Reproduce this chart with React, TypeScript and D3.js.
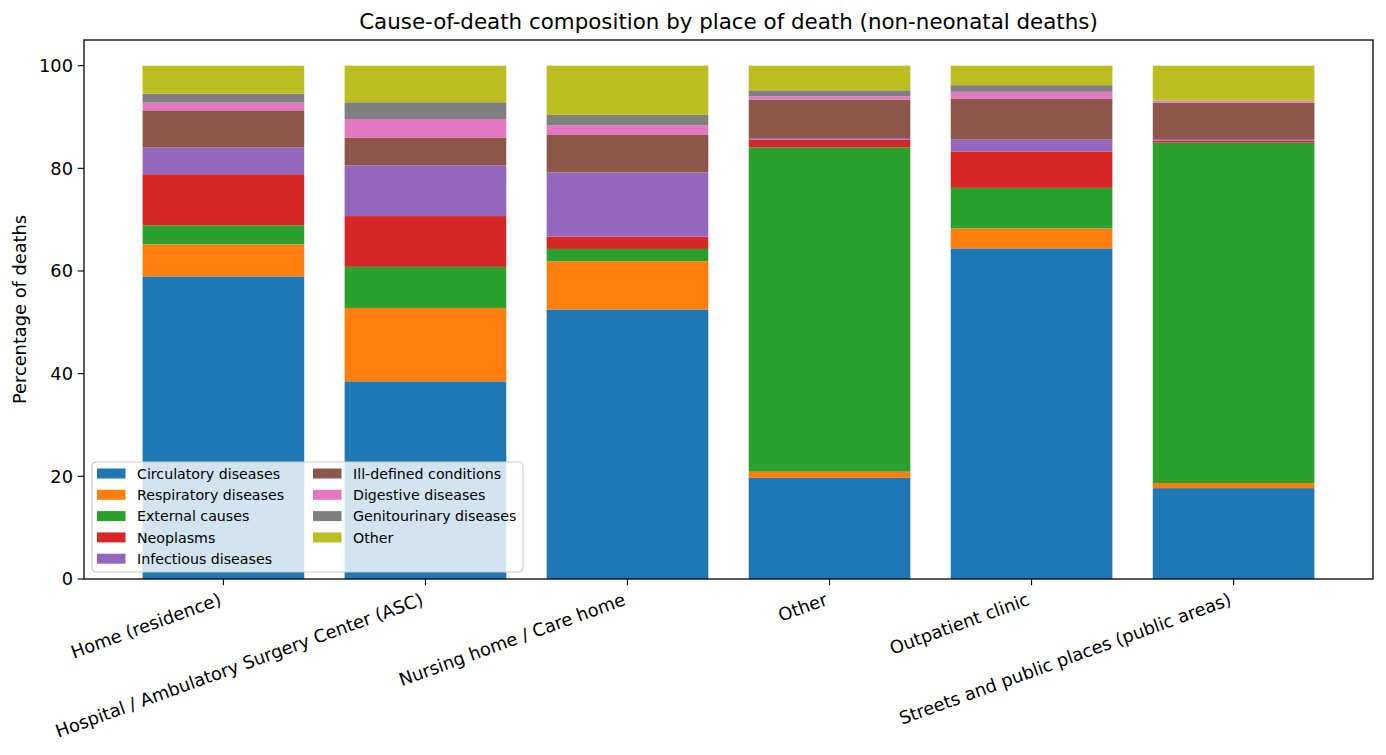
import { useEffect, useRef } from "react";
import * as d3 from "d3";

// places of death (x categories)
const places = [
  "Home (residence)",
  "Hospital / Ambulatory Surgery Center (ASC)",
  "Nursing home / Care home",
  "Other",
  "Outpatient clinic",
  "Streets and public places (public areas)",
];

// causes, bottom to top in the stack
const causes = [
  "Circulatory diseases",
  "Respiratory diseases",
  "External causes",
  "Neoplasms",
  "Infectious diseases",
  "Ill-defined conditions",
  "Digestive diseases",
  "Genitourinary diseases",
  "Other",
];

const colors = [
  "#1f77b4", "#ff7f0e", "#2ca02c", "#d62728", "#9467bd",
  "#8c564b", "#e377c2", "#7f7f7f", "#bcbd22",
];

// percentage values per place, one array per cause
const circulatory = [58.95, 38.5, 52.5, 19.7, 64.4, 17.7];
const respiratory = [6.25, 14.3, 9.4, 1.2, 3.9, 1.0];
const external = [3.7, 8.0, 2.4, 63.2, 7.9, 66.3];
const neoplasms = [9.95, 9.9, 2.4, 1.5, 7.1, 0.4];
const infectious = [5.2, 9.9, 12.5, 0.3, 2.3, 0.3];
const illDefined = [7.25, 5.4, 7.3, 7.5, 8.0, 7.1];
const digestive = [1.5, 3.6, 1.9, 0.6, 1.3, 0.3];
const genitourinary = [1.75, 3.27, 2.0, 1.2, 1.3, 0.1];
const other = [5.45, 7.13, 9.6, 4.8, 3.8, 6.8];

const yTicks = [0, 20, 40, 60, 80, 100];

const series = [
  circulatory, respiratory, external, neoplasms, infectious,
  illDefined, digestive, genitourinary, other,
];

export default function App() {
  const svgRef = useRef<SVGSVGElement | null>(null);

  useEffect(() => {
    document.body.style.margin = "0";
    if (!svgRef.current) return;
    d3.select(svgRef.current).selectAll("*").remove();

    const width = 1386;
    const height = 755;
    const margin = { top: 40, right: 13, bottom: 176, left: 84 };
    const innerWidth = width - margin.left - margin.right;
    const innerHeight = height - margin.top - margin.bottom;
    const font = "DejaVu Sans, sans-serif";

    const rows = places.map((p, i) => {
      const r: any = { place: p };
      causes.forEach((c, j) => (r[c] = series[j][i]));
      return r;
    });

    const stacked = d3.stack<any>().keys(causes)(rows);

    const svg = d3
      .select(svgRef.current)
      .attr("width", width)
      .attr("height", height)
      .style("background", "#fff");

    const g = svg
      .append("g")
      .attr("transform", `translate(${margin.left},${margin.top})`);

    // matplotlib-like x: positions 0..5, margins 5%
    const x = d3
      .scaleLinear()
      .domain([-0.69, places.length - 1 + 0.69])
      .range([0, innerWidth]);
    const barW = x(0.8) - x(0);

    const y = d3.scaleLinear().domain([0, 105]).range([innerHeight, 0]);

    // bars
    stacked.forEach((layer, j) => {
      g.selectAll(`.bar-${j}`)
        .data(layer)
        .enter()
        .append("rect")
        .attr("x", (_d, i) => x(i) - barW / 2)
        .attr("width", barW)
        .attr("y", (d) => y(d[1]))
        .attr("height", (d) => y(d[0]) - y(d[1]))
        .attr("fill", colors[j]);
    });

    // frame
    g.append("rect")
      .attr("width", innerWidth)
      .attr("height", innerHeight)
      .attr("fill", "none")
      .attr("stroke", "#000")
      .attr("stroke-width", 1.3);

    // y axis
    const yAxis = g.append("g");
    yTicks.forEach((t) => {
      yAxis
        .append("line")
        .attr("x1", -6.3)
        .attr("x2", 0)
        .attr("y1", y(t))
        .attr("y2", y(t))
        .attr("stroke", "#000")
        .attr("stroke-width", 1.1);
      yAxis
        .append("text")
        .attr("x", -11)
        .attr("y", y(t))
        .attr("dy", "0.36em")
        .attr("text-anchor", "end")
        .attr("font-family", font)
        .attr("font-size", 17.8)
        .text(t);
    });

    // x axis
    const xAxis = g.append("g").attr("transform", `translate(0,${innerHeight})`);
    places.forEach((p, i) => {
      xAxis
        .append("line")
        .attr("x1", x(i))
        .attr("x2", x(i))
        .attr("y1", 0)
        .attr("y2", 6.3)
        .attr("stroke", "#000")
        .attr("stroke-width", 1.1);
      xAxis
        .append("text")
        .attr("transform", `translate(${x(i) - 1},${25.5}) rotate(-20)`)
        .attr("text-anchor", "end")
        .attr("font-family", font)
        .attr("font-size", 17.8)
        .text(p);
    });

    // y label
    svg
      .append("text")
      .attr("transform", `translate(26,${margin.top + y(52.5)}) rotate(-90)`)
      .attr("text-anchor", "middle")
      .attr("font-family", font)
      .attr("font-size", 17.8)
      .text("Percentage of deaths");

    // title
    svg
      .append("text")
      .attr("x", margin.left + innerWidth / 2)
      .attr("y", 29)
      .attr("text-anchor", "middle")
      .attr("font-family", font)
      .attr("font-size", 21.4)
      .text("Cause-of-death composition by place of death (non-neonatal deaths)");

    // legend
    const lg = svg.append("g").attr("transform", "translate(92,462)");
    lg.append("rect")
      .attr("width", 431)
      .attr("height", 110)
      .attr("rx", 4)
      .attr("fill", "rgba(255,255,255,0.8)")
      .attr("stroke", "#cccccc")
      .attr("stroke-width", 1.1);
    causes.forEach((c, j) => {
      const col = j < 5 ? 0 : 1;
      const row = j < 5 ? j : j - 5;
      const ox = col === 0 ? 5 : 221;
      const oy = 11.5 + row * 21.3;
      lg.append("rect")
        .attr("x", ox)
        .attr("y", oy - 5)
        .attr("width", 28.5)
        .attr("height", 10)
        .attr("fill", colors[j]);
      lg.append("text")
        .attr("x", ox + 40)
        .attr("y", oy)
        .attr("dy", "0.36em")
        .attr("font-family", font)
        .attr("font-size", 14.2)
        .text(c);
    });
  }, []);

  return <svg ref={svgRef} style={{ display: "block" }} />;
}
